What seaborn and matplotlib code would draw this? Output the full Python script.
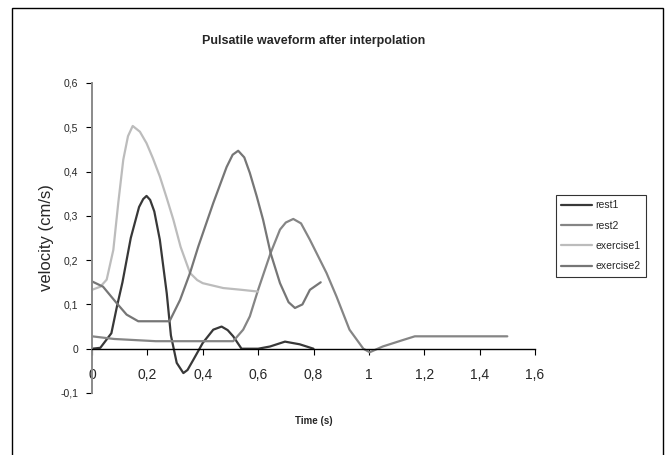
import matplotlib
matplotlib.use("Agg")
import matplotlib.pyplot as plt
import seaborn as sns
import pandas as pd
from matplotlib.patches import Rectangle

# values (time in s, velocity in cm/s)
rest1_t = [0, 0.03, 0.07, 0.09, 0.11, 0.14, 0.17, 0.185, 0.197, 0.21, 0.225, 0.245, 0.27, 0.285,
           0.306, 0.33, 0.345, 0.366, 0.40, 0.438, 0.468, 0.49, 0.51, 0.54, 0.60, 0.643, 0.697,
           0.75, 0.80]
rest1_v = [0, 0.002, 0.035, 0.095, 0.15, 0.25, 0.32, 0.338, 0.345, 0.336, 0.31, 0.246, 0.125,
           0.03, -0.032, -0.055, -0.048, -0.025, 0.013, 0.043, 0.05, 0.042, 0.028, 0.0, 0.0,
           0.005, 0.016, 0.01, 0.0]

rest2_t = [0, 0.08, 0.23, 0.51, 0.546, 0.57, 0.6, 0.645, 0.679, 0.70, 0.727, 0.755, 0.787,
           0.847, 0.883, 0.93, 0.98, 1.003, 1.05, 1.125, 1.166, 1.5]
rest2_v = [0.028, 0.022, 0.017, 0.017, 0.043, 0.073, 0.133, 0.216, 0.269, 0.285, 0.293, 0.283,
           0.246, 0.171, 0.118, 0.043, 0.0, -0.008, 0.005, 0.02, 0.028, 0.028]

exercise1_t = [0, 0.03, 0.053, 0.077, 0.095, 0.113, 0.13, 0.147, 0.173, 0.197, 0.22, 0.245,
               0.27, 0.294, 0.32, 0.354, 0.38, 0.40, 0.474, 0.54, 0.60]
exercise1_v = [0.133, 0.14, 0.156, 0.223, 0.33, 0.427, 0.48, 0.503, 0.49, 0.464, 0.43, 0.389,
               0.34, 0.291, 0.23, 0.171, 0.155, 0.148, 0.137, 0.133, 0.129]

exercise2_t = [0, 0.04, 0.089, 0.125, 0.167, 0.28, 0.318, 0.354, 0.384, 0.438, 0.486, 0.508,
               0.528, 0.55, 0.57, 0.595, 0.618, 0.645, 0.679, 0.71, 0.733, 0.76, 0.787, 0.826]
exercise2_v = [0.152, 0.14, 0.103, 0.077, 0.062, 0.062, 0.11, 0.171, 0.231, 0.329, 0.41, 0.438,
               0.447, 0.432, 0.397, 0.344, 0.291, 0.216, 0.148, 0.105, 0.092, 0.1, 0.133, 0.15]

series = ["rest1", "rest2", "exercise1", "exercise2"]
colors = ["#383838", "#858585", "#bcbcbc", "#767676"]

xticks = [0, 0.2, 0.4, 0.6, 0.8, 1.0, 1.2, 1.4, 1.6]
xtick_labels = ["0", "0,2", "0,4", "0,6", "0,8", "1", "1,2", "1,4", "1,6"]
yticks = [-0.1, 0, 0.1, 0.2, 0.3, 0.4, 0.5, 0.6]
ytick_labels = ["-0,1", "0", "0,1", "0,2", "0,3", "0,4", "0,5", "0,6"]

frames = []
for name, t, v in [("rest1", rest1_t, rest1_v), ("rest2", rest2_t, rest2_v),
                   ("exercise1", exercise1_t, exercise1_v), ("exercise2", exercise2_t, exercise2_v)]:
    frames.append(pd.DataFrame({"time": t, "velocity": v, "series": name}))
df = pd.concat(frames, ignore_index=True)

sns.set_style("white")
plt.rcParams["font.family"] = ["Liberation Sans", "DejaVu Sans"]

fig = plt.figure(figsize=(6.71, 4.55), dpi=100)
ax = fig.add_axes([92 / 671, 1 - 393 / 455, (535 - 92) / 671, (393 - 83) / 455])

sns.lineplot(data=df, x="time", y="velocity", hue="series", hue_order=series,
             palette=colors, sort=False, estimator=None, linewidth=1.6, ax=ax)

ax.set_xlim(0, 1.6)
ax.set_ylim(-0.1, 0.6)
ax.set_xticks(xticks)
ax.set_xticklabels(xtick_labels, fontsize=7.5)
ax.set_yticks(yticks)
ax.set_yticklabels(ytick_labels, fontsize=7.5)

ax.spines["top"].set_visible(False)
ax.spines["right"].set_visible(False)
ax.spines["bottom"].set_position(("data", 0))
ax.spines["bottom"].set_color("black")
ax.spines["bottom"].set_linewidth(1.0)
ax.spines["left"].set_color("#8a8a8a")
ax.spines["left"].set_linewidth(1.4)
ax.tick_params(axis="y", which="both", left=True, length=4, width=0.8, color="black", pad=6)
ax.tick_params(axis="x", which="both", bottom=True, length=4, width=0.8, color="black", pad=10)

ax.set_xlabel("Time (s)", fontsize=7, fontweight="bold")
ax.xaxis.set_label_coords(0.5, -0.075)
ax.set_ylabel("velocity (cm/s)", fontsize=12)
ax.yaxis.set_label_coords(-0.086, 0.5)
ax.set_title("Pulsatile waveform after interpolation", fontsize=9, fontweight="bold", pad=28)

leg = ax.legend(loc="upper left", bbox_to_anchor=(556 / 671, 1 - 195 / 455),
                bbox_transform=fig.transFigure, frameon=True, fancybox=False,
                fontsize=7.5, handlelength=3.0, handletextpad=0.3, labelspacing=1.0,
                borderpad=0.5, borderaxespad=0, title=None)
leg.get_frame().set_edgecolor("black")
leg.get_frame().set_linewidth(0.8)

fig.patches.append(Rectangle((12 / 671, -0.01), (663 - 12) / 671, 1 - 8 / 455 + 0.01,
                             transform=fig.transFigure, fill=False,
                             edgecolor="black", linewidth=1.0))

fig.savefig("out.png", dpi=100)
